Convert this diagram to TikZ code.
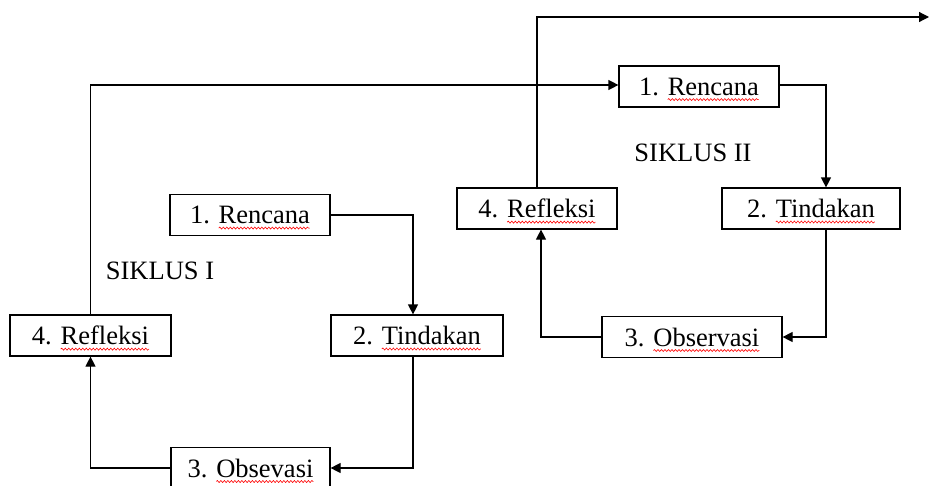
\documentclass[tikz,border=0pt]{standalone}
\usepackage{fontspec}
\setmainfont{Liberation Serif}
\usepackage{tikz}
\usetikzlibrary{arrows.meta, positioning, decorations.pathmorphing}
\usepackage{xcolor}

% red wavy underline under a word
\newsavebox\wordbox
\newcommand{\spellerr}[1]{\sbox\wordbox{#1}\rlap{\usebox\wordbox}\tikz[baseline=0pt, x=1pt, y=1pt]{\useasboundingbox (0,0) rectangle (\wd\wordbox,0); \draw [red, line width=0.6pt, decorate, decoration={snake, amplitude=1pt, segment length=3.5pt}] (0,-4.5) -- (\wd\wordbox,-4.5);}}

\begin{document}
\begin{tikzpicture}[
    x=1pt, y=-1pt,
    box/.style = {rectangle, draw=black, line width=1.2pt, fill=white, minimum height=41pt, inner sep=0pt, font=\fontsize{26.5}{30}\selectfont},
    title/.style = {font=\fontsize{26.5}{30}\selectfont},
    link/.style = {draw=black, line width=1.2pt, -{Triangle[length=10pt, width=10pt]}}
]
\useasboundingbox (0,0) rectangle (929,485);

% Siklus I
\node (ren1) [box, minimum width=160pt] at (250,215) {1. \spellerr{Rencana}};
\node (tin1) [box, minimum width=172pt] at (417,335.5) {2. \spellerr{Tindakan}};
\node (obs1) [box, minimum width=159pt] at (250.5,468) {3. \spellerr{Obsevasi}};
\node (ref1) [box, minimum width=161pt] at (90.5,335.5) {4. \spellerr{Refleksi}};
\node (sik1) [title] at (160,271) {SIKLUS I};

% Siklus II
\node (ren2) [box, minimum width=160pt] at (699,86.5) {1. \spellerr{Rencana}};
\node (tin2) [box, minimum width=178pt] at (811,208.5) {2. \spellerr{Tindakan}};
\node (obs2) [box, minimum width=180pt] at (692,337) {3. \spellerr{Observasi}};
\node (ref2) [box, minimum width=160pt] at (537,208.5) {4. \spellerr{Refleksi}};
\node (sik2) [title] at (693,153) {SIKLUS II};
\coordinate (out) at (929,17);

% Arrows
\draw [link] (ren1.east) -| ([xshift=-4pt]tin1.north);
\draw [link] ([xshift=-4pt]tin1.south) |- (obs1.east);
\draw [link] (obs1.west) -| (ref1.south);
\draw [link] (ref1.north) |- ([yshift=1.5pt]ren2.west);
\draw [link] ([yshift=1.5pt]ren2.east) -| ([xshift=15pt]tin2.north);
\draw [link] ([xshift=15pt]tin2.south) |- (obs2.east);
\draw [link] (obs2.west) -| ([xshift=4pt]ref2.south);
\draw [link] (ref2.north) |- (out);

\end{tikzpicture}
\end{document}
